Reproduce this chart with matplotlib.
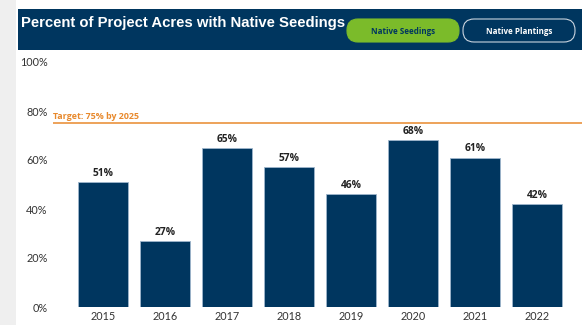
import matplotlib
matplotlib.use("Agg")
import matplotlib.pyplot as plt
from matplotlib.patches import FancyBboxPatch, Rectangle

years = ["2015", "2016", "2017", "2018", "2019", "2020", "2021", "2022"]
pct = [51, 27, 65, 57, 46, 68, 61, 42]
target = 75
target_label = "Target: 75% by 2025"
title = "Percent of Project Acres with Native Seedings"
buttons = ["Native Seedings", "Native Plantings"]
yticks = [0, 20, 40, 60, 80, 100]

navy = "#00365f"
green = "#7bbb2a"
orange = "#e8892c"

W, H = 582, 325
fig = plt.figure(figsize=(W / 100, H / 100), dpi=100)
fig.patch.set_facecolor("white")

# overlay axes in pixel units for the header decoration
deco = fig.add_axes([0, 0, 1, 1], zorder=5)
deco.set_xlim(0, W)
deco.set_ylim(H, 0)
deco.axis("off")
deco.patch.set_alpha(0)

deco.add_patch(Rectangle((0, 0), 16, H, facecolor="#efefef", edgecolor="none"))
deco.add_patch(Rectangle((18, 9), W - 18, 41, facecolor=navy, edgecolor="none"))
deco.text(21, 23, title, color="white", fontsize=10.7, fontweight="bold",
          family="Liberation Sans", va="center", ha="left")

btn_x = [347, 463]
for i, lab in enumerate(buttons):
    x0 = btn_x[i]
    fc = green if i == 0 else navy
    ec = green if i == 0 else "#c9d3de"
    tc = navy if i == 0 else "white"
    deco.add_patch(FancyBboxPatch((x0, 19), 112, 23,
                                  boxstyle="round,pad=0,rounding_size=11",
                                  facecolor=fc, edgecolor=ec, linewidth=0.8))
    deco.text(x0 + 56, 31, lab, color=tc, fontsize=5.8, fontweight="bold",
              family="Open Sans", ha="center", va="center")

# plot area
ax = fig.add_axes([53 / W, 1 - 307 / H, (W - 53) / W, (307 - 62) / H])
ax.set_facecolor("none")
x = list(range(len(years)))
ax.bar(x, pct, width=0.82, color=navy, edgecolor="#9fb6cc", linewidth=0.6,
       zorder=2)
for xi, v in zip(x, pct):
    ax.text(xi, v + 1.3, f"{v}%", ha="center", va="bottom", fontsize=7.4,
            fontweight="bold", family="Open Sans", color="#222222")

ax.axhline(target, color=orange, linewidth=1.1, zorder=3)
ax.text(-0.8, target + 1.0, target_label, color=orange, fontsize=6.4,
        fontweight="bold", family="Open Sans", ha="left", va="bottom")

ax.set_xlim(-0.806, 7.726)
ax.set_ylim(0, 100)
ax.set_xticks(x)
ax.set_xticklabels(years, family="Lato", fontsize=7.8, color="#333333")
ax.set_yticks(yticks)
ax.set_yticklabels([f"{t}%" for t in yticks], family="Lato", fontsize=7.8,
                   color="#333333")
ax.tick_params(length=0, pad=3)
ax.tick_params(axis="y", pad=4)
for s in ax.spines.values():
    s.set_visible(False)

fig.savefig("out.png", dpi=100)
